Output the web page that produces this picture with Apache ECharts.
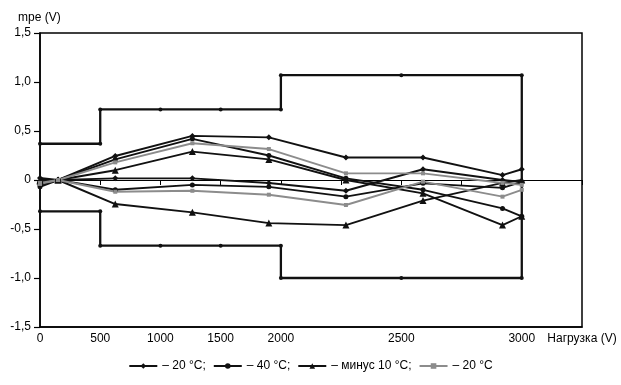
<!DOCTYPE html>
<html>
<head>
<meta charset="utf-8">
<script src="https://cdn.jsdelivr.net/npm/echarts@6/dist/echarts.min.js"></script>
<style>html,body{margin:0;padding:0;background:#fff}#c{width:621px;height:385px}</style>
</head>
<body>
<div id="c"></div>
<script>
// Load values (V) at which errors were measured
var loads = [0, 150, 625, 1265, 1900, 2270, 2590, 2920, 3000];
// Series values (mpe, V)
var d20a = [-0.02, 0.0, 0.245, 0.45, 0.435, 0.23, 0.23, 0.05, 0.11];
var d20b = [0.02, 0.0, 0.017, 0.017, -0.03, -0.11, 0.11, 0.0, -0.02];
var c40a = [-0.05, 0.0, 0.21, 0.42, 0.25, 0.017, -0.10, -0.29, -0.37];
var c40b = [-0.07, 0.0, -0.10, -0.05, -0.07, -0.17, -0.034, -0.08, -0.02];
var t10a = [0.0, 0.0, 0.10, 0.29, 0.21, 0.0, -0.136, -0.46, -0.37];
var t10b = [-0.01, 0.0, -0.245, -0.33, -0.44, -0.46, -0.21, -0.03, 0.0];
var g20a = [-0.03, 0.0, 0.18, 0.375, 0.316, 0.068, 0.068, -0.03, -0.05];
var g20b = [-0.04, 0.0, -0.12, -0.11, -0.15, -0.255, -0.017, -0.17, -0.10];
// Limit envelope (mpe)
var envLoads = [0, 500, 500, 1000, 1500, 2000, 2000, 2500, 3000, 3000, 2500, 2000, 2000, 1500, 1000, 500, 500, 0];
var envVals = [0.37, 0.37, 0.72, 0.72, 0.72, 0.72, 1.07, 1.07, 1.07, -1.0, -1.0, -1.0, -0.67, -0.67, -0.67, -0.67, -0.32, -0.32];
// Tick labels of the (piecewise) load axis
var xTickLabels = ['0', '500', '1000', '1500', '2000', '', '2500', '', '3000', 'Нагрузка (V)'];
var legendNames = ['– 20 °C;', '– 40 °C;', '– минус 10 °C;', '– 20 °C'];

// axis scale: 500 V per step up to 2000 V, 250 V per step above
function pos(v) { return v <= 2000 ? v / 500 : 4 + (v - 2000) / 250; }
function pts(xs, ys) { return xs.map(function (x, i) { return [pos(x), ys[i]]; }); }

var BLACK = '#111', GRAY = '#8c8c8c';
function ser(name, vals, color, symbol, size) {
  return {
    name: name, type: 'line', data: pts(loads, vals),
    symbol: symbol, symbolSize: size, showSymbol: true,
    lineStyle: { color: color, width: 1.9 },
    itemStyle: { color: color },
    emphasis: { disabled: true }, animation: false, z: 3
  };
}
var font = 'Liberation Sans, Arial, sans-serif';
var chart = echarts.init(document.getElementById('c'));
chart.setOption({
  animation: false,
  title: { text: 'mpe (V)', left: 13, top: 7, textStyle: { fontSize: 12, fontWeight: 'normal', color: '#000', fontFamily: font } },
  grid: { left: 40, right: 39, top: 33, bottom: 58, show: true, borderColor: '#000', borderWidth: 1.5 },
  legend: {
    data: legendNames, bottom: 8, left: 'center', itemWidth: 28, itemHeight: 7, itemGap: 7,
    textStyle: { fontSize: 12, color: '#000', fontFamily: font }
  },
  xAxis: [{
    type: 'value', min: 0, max: 9, interval: 1, position: 'bottom',
    axisLine: { show: true, onZero: false, lineStyle: { color: '#000', width: 1.5 } },
    axisTick: { show: false }, splitLine: { show: false },
    axisLabel: { margin: 6, color: '#000', fontSize: 12, fontFamily: font, showMinLabel: true, showMaxLabel: true,
      formatter: function (v) { return xTickLabels[Math.round(v)]; } }
  }, {
    type: 'value', min: 0, max: 9, interval: 1, position: 'bottom',
    axisLine: { show: true, onZero: true, lineStyle: { color: '#000', width: 1.2 } },
    axisTick: { show: true, inside: false, length: 5, lineStyle: { color: '#000', width: 1 } },
    axisLabel: { show: false }, splitLine: { show: false }
  }],
  yAxis: {
    type: 'value', min: -1.5, max: 1.5, interval: 0.5,
    axisLine: { show: true, lineStyle: { color: '#000', width: 1.5 } },
    axisTick: { show: true, length: 6, lineStyle: { color: '#000', width: 1.2 } },
    splitLine: { show: false },
    axisLabel: { margin: 9, color: '#000', fontSize: 12, fontFamily: font,
      formatter: function (v) { return v === 0 ? '0' : v.toFixed(1).replace('.', ','); } }
  },
  series: [
    {
      type: 'line', data: pts(envLoads, envVals), symbol: 'circle', symbolSize: 4,
      lineStyle: { color: BLACK, width: 2.3 }, itemStyle: { color: BLACK }, z: 2,
      emphasis: { disabled: true }
    },
    ser(legendNames[0], d20a, BLACK, 'diamond', 6),
    ser(legendNames[0], d20b, BLACK, 'diamond', 6),
    ser(legendNames[1], c40a, BLACK, 'circle', 5),
    ser(legendNames[1], c40b, BLACK, 'circle', 5),
    ser(legendNames[2], t10a, BLACK, 'triangle', 7),
    ser(legendNames[2], t10b, BLACK, 'triangle', 7),
    ser(legendNames[3], g20a, GRAY, 'rect', 4),
    ser(legendNames[3], g20b, GRAY, 'rect', 4)
  ]
});
</script>
</body>
</html>
